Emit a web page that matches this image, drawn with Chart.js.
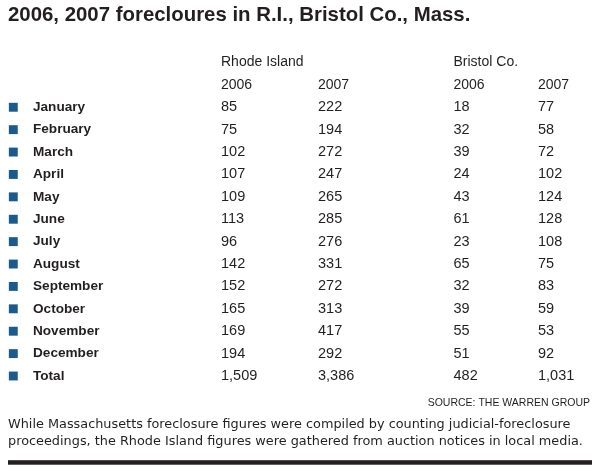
<!DOCTYPE html>
<html>
<head>
<meta charset="utf-8">
<script src="https://cdn.jsdelivr.net/npm/chart.js@4/dist/chart.umd.min.js"></script>
<style>
  html, body { margin: 0; padding: 0; background: #fff; }
  #wrap { position: relative; width: 600px; height: 474px; }
</style>
</head>
<body>
<div id="wrap"><canvas id="table"></canvas></div>
<script>
// Table content
const months = ['January', 'February', 'March', 'April', 'May', 'June', 'July',
    'August', 'September', 'October', 'November', 'December', 'Total'];
const regions = ['Rhode Island', 'Bristol Co.'];
const years = ['2006', '2007'];
const ri2006 = [85, 75, 102, 107, 109, 113, 96, 142, 152, 165, 169, 194, 1509];
const ri2007 = [222, 194, 272, 247, 265, 285, 276, 331, 272, 313, 417, 292, 3386];
const bc2006 = [18, 32, 39, 24, 43, 61, 23, 65, 32, 39, 55, 51, 482];
const bc2007 = [77, 58, 72, 102, 124, 128, 108, 75, 83, 59, 53, 92, 1031];

const titleText = '2006, 2007 forecloures in R.I., Bristol Co., Mass.';
const sourceText = 'SOURCE: THE WARREN GROUP';
const noteLines = [
    'While Massachusetts foreclosure figures were compiled by counting judicial-foreclosure',
    'proceedings, the Rhode Island figures were gathered from auction notices in local media.'
];

// Rows of the y axis: two header rows, then the months
const rowKeys = ['region', 'year'].concat(months);

// Column positions on the hidden x axis (layout)
const col = { marker: 5.3, label: 25, ri06: 213, ri07: 310, bc06: 445.5, bc07: 530 };

const ink = '#231f20';
const blue = '#1b5a8c';
const fontFamily = '"Liberation Sans", Arial, sans-serif';
const noteFamily = '"DejaVu Sans", Verdana, sans-serif';

function cells(values, x) {
    return values.map((v, i) => ({ x: x, y: months[i], v: v }));
}

// Draws the text of every cell at its point, plus headers and footer
const tableText = {
    id: 'tableText',
    afterDatasetsDraw(chart) {
        const ctx = chart.ctx;
        const xs = chart.scales.x;
        const ys = chart.scales.y;
        ctx.save();
        ctx.fillStyle = ink;
        ctx.textBaseline = 'middle';
        ctx.textAlign = 'left';

        // headers
        ctx.font = '14px ' + fontFamily;
        ctx.fillText(regions[0], xs.getPixelForValue(col.ri06), ys.getPixelForValue(0));
        ctx.fillText(regions[1], xs.getPixelForValue(col.bc06), ys.getPixelForValue(0));
        [col.ri06, col.ri07, col.bc06, col.bc07].forEach((c, i) => {
            ctx.fillText(years[i % 2], xs.getPixelForValue(c), ys.getPixelForValue(1));
        });

        // month labels
        ctx.font = 'bold 13.6px ' + fontFamily;
        months.forEach((m, i) => {
            ctx.fillText(m, xs.getPixelForValue(col.label), ys.getPixelForValue(i + 2));
        });

        // numbers, placed at each dataset point
        ctx.font = '14.5px ' + fontFamily;
        chart.data.datasets.forEach((ds, di) => {
            if (!ds.isCell) return;
            const meta = chart.getDatasetMeta(di);
            meta.data.forEach((pt, i) => {
                ctx.fillText(ds.data[i].v.toLocaleString('en-US'), pt.x, pt.y);
            });
        });

        // source line
        const bottom = chart.chartArea.bottom;
        ctx.font = '10.5px ' + fontFamily;
        ctx.textAlign = 'right';
        ctx.fillText(sourceText, chart.chartArea.right - 2, bottom + 15.5);

        // footnote
        ctx.font = '12.85px ' + noteFamily;
        ctx.textAlign = 'left';
        noteLines.forEach((line, i) => {
            ctx.fillText(line, chart.chartArea.left, bottom + 37 + i * 17);
        });

        // heavy rule
        ctx.fillStyle = ink;
        ctx.fillRect(chart.chartArea.left, bottom + 73, chart.chartArea.width, 4.5);
        ctx.restore();
    }
};

new Chart(document.getElementById('table'), {
    type: 'scatter',
    data: {
        datasets: [
            {
                label: 'marker',
                data: months.map(m => ({ x: col.marker, y: m })),
                pointStyle: 'rect',
                pointRadius: 6.3,
                pointHoverRadius: 6.3,
                backgroundColor: blue,
                borderWidth: 0,
                clip: false
            },
            { label: 'RI 2006', data: cells(ri2006, col.ri06), isCell: true, pointRadius: 0 },
            { label: 'RI 2007', data: cells(ri2007, col.ri07), isCell: true, pointRadius: 0 },
            { label: 'Bristol 2006', data: cells(bc2006, col.bc06), isCell: true, pointRadius: 0 },
            { label: 'Bristol 2007', data: cells(bc2007, col.bc07), isCell: true, pointRadius: 0 }
        ]
    },
    options: {
        responsive: true,
        maintainAspectRatio: false,
        animation: false,
        events: [],
        layout: {
            padding: { left: 8, right: 8, top: 0, bottom: 86.8 }
        },
        scales: {
            x: { type: 'linear', min: 0, max: 584, display: false },
            y: { type: 'category', labels: rowKeys, offset: true, display: false }
        },
        plugins: {
            legend: { display: false },
            tooltip: { enabled: false },
            title: {
                display: true,
                text: titleText,
                align: 'start',
                color: ink,
                font: { family: fontFamily, size: 20.4, weight: 'bold', lineHeight: 1.2 },
                padding: { top: 3.5, bottom: 23.3 }
            }
        }
    },
    plugins: [tableText]
});
</script>
</body>
</html>
